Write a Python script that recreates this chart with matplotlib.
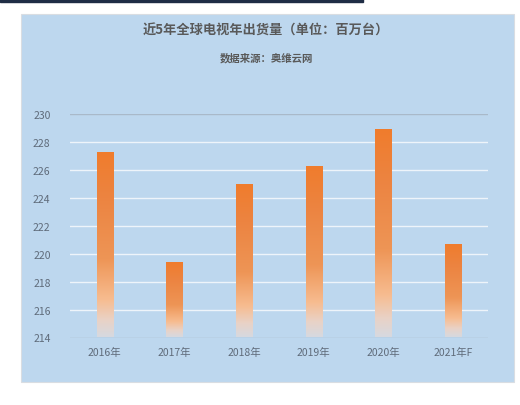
import matplotlib
matplotlib.use("Agg")
import matplotlib.pyplot as plt
from matplotlib.colors import LinearSegmentedColormap
from matplotlib.patches import Rectangle
import numpy as np

plt.rcParams['font.family'] = ['Noto Sans CJK SC', 'DejaVu Sans']

years = ["2016年", "2017年", "2018年", "2019年", "2020年", "2021年F"]
shipments = [227.3, 219.4, 225.0, 226.3, 228.9, 220.7]
y_ticks = [214, 216, 218, 220, 222, 224, 226, 228, 230]

title = "近5年全球电视年出货量（单位：百万台）"
subtitle = "数据来源：奥维云网"

W, H = 520, 406
fig = plt.figure(figsize=(W / 100, H / 100), dpi=100)
fig.patch.set_facecolor("white")

# dark strip at the very top and the blue panel behind the chart
fig.patches.append(Rectangle((0, 1 - 2.5 / H), 363 / W, 2.5 / H,
                             transform=fig.transFigure, color="#1f2d45", zorder=-2))
fig.patches.append(Rectangle((21 / W, 1 - 383 / H), (514 - 21) / W, (383 - 15) / H,
                             transform=fig.transFigure, facecolor="#BDD7EE",
                             edgecolor="#d9dde2", lw=0.8, zorder=-2))

ax = fig.add_axes([70 / W, 1 - 338.5 / H, (488 - 70) / W, (338.5 - 115) / H])
ax.set_zorder(1)
ax.set_facecolor("none")

x = np.arange(len(years))
bars = ax.bar(x, [v - 214 for v in shipments], bottom=214, width=0.23,
              color="none", zorder=3)

# orange at the top, fading out near the base
cmap = LinearSegmentedColormap.from_list(
    "fade", [(0.0, "#D6D9E0"), (0.09, "#E9D2C6"), (0.2, "#F7BC90"),
             (0.42, "#EE9556"), (0.75, "#EC8441"), (1.0, "#F07C2C")])
grad = np.linspace(0, 1, 256).reshape(-1, 1)
for b in bars:
    bx, by = b.get_x(), b.get_y()
    bw, bh = b.get_width(), b.get_height()
    im = ax.imshow(grad, extent=[bx, bx + bw, by, by + bh], origin="lower",
                   cmap=cmap, aspect="auto", zorder=3)
    im.set_clip_path(b)

ax.set_xlim(-0.5, len(years) - 0.5)
ax.set_ylim(214, 230)
ax.set_yticks(y_ticks)
ax.set_xticks(x)
ax.set_xticklabels(years)
ax.tick_params(axis="both", length=0, labelsize=7.5, colors="#5f6b7a", pad=7)
ax.tick_params(axis="y", pad=14)

for t in y_ticks:
    c = "#a9b9c9" if t in (214, 230) else "#eef4fa"
    ax.axhline(t, color=c, lw=1.0, zorder=1)
for s in ax.spines.values():
    s.set_visible(False)

fig.text(266 / W, 1 - 31 / H, title, ha="center", va="center",
         fontsize=9.5, fontweight="bold", color="#595959")
fig.text(266 / W, 1 - 58 / H, subtitle, ha="center", va="center",
         fontsize=7.5, fontweight="bold", color="#595959")

fig.savefig("out.png", dpi=100)
